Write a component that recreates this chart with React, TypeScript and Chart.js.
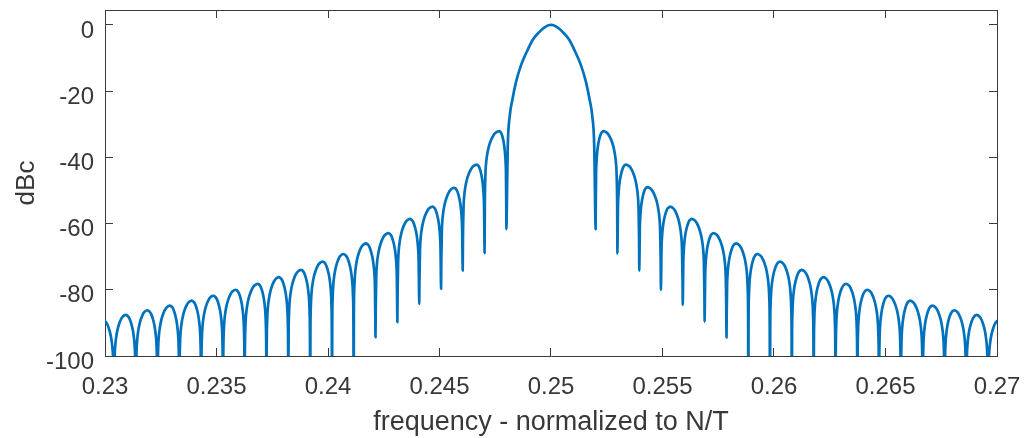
import React, { useEffect, useRef } from "react";
import { Chart, registerables } from "chart.js";

Chart.register(...registerables);

// ---- Data ----
// Frequency axis
const xMin = 0.23;
const xMax = 0.27;
const xStep = 0.005;
// Level axis (dBc)
const yMin = -100;
const yMax = 4.5;
const yStep = 20;

const xTitle = "frequency - normalized to N/T";
const yTitle = "dBc";

// Nulls left of the main lobe (frequency, depth in dBc; -120 = below the axis)
const leftNullFreqs = [
  0.22942, 0.2304, 0.23138, 0.23235, 0.23333, 0.23431, 0.23529, 0.23626, 0.23724, 0.23822,
  0.2392, 0.24018, 0.24115, 0.24213, 0.24311, 0.24409, 0.24507, 0.24604, 0.24702, 0.248,
];
const leftNullLevels = [
  -120, -120, -120, -120, -120, -120, -120, -120, -120, -120,
  -120, -120, -120, -94.3, -89.8, -84.3, -79.7, -74.2, -68.9, -61.7,
];
// Side-lobe peaks left of the main lobe
const leftPeakFreqs = [
  0.22991, 0.23093, 0.2319, 0.23291, 0.23389, 0.23486, 0.23586, 0.23685, 0.2378, 0.23879,
  0.23976, 0.24069, 0.2417, 0.24271, 0.24368, 0.24469, 0.24566, 0.24667, 0.24768,
];
const leftPeakLevels = [
  -89.2, -87.6, -86.2, -84.8, -83.3, -81.8, -80.0, -78.2, -76.2, -74.0,
  -71.5, -69.2, -66.0, -62.9, -58.6, -54.9, -49.2, -42.2, -32.1,
];

// Main lobe (between the nulls at 0.248 and 0.252)
const mainLobeFreqs = [
  0.24803, 0.24806, 0.24815, 0.24827, 0.24843, 0.24865, 0.24897, 0.24919, 0.24941, 0.24959,
  0.24975, 0.24988, 0.25,
  0.25012, 0.25025, 0.25041, 0.25059, 0.25081, 0.25103, 0.25135, 0.25157, 0.25173, 0.25185,
  0.25194, 0.25197,
];
const mainLobeLevels = [
  -50, -37, -27.5, -22.5, -17.3, -12.3, -7.3, -4.4, -2.6, -1.4,
  -0.6, -0.13, 0,
  -0.13, -0.6, -1.4, -2.6, -4.4, -7.3, -12.3, -17.3, -22.5, -27.5,
  -37, -50,
];

// Nulls right of the main lobe
const rightNullFreqs = [
  0.252, 0.25298, 0.25396, 0.25493, 0.25591, 0.25689, 0.25787, 0.25885, 0.25982, 0.2608,
  0.26178, 0.26276, 0.26374, 0.26471, 0.26569, 0.26667, 0.26765, 0.26862, 0.2696, 0.27058,
];
const rightNullLevels = [
  -61.7, -69.0, -74.2, -80.0, -84.6, -89.6, -94.4, -120, -120, -120,
  -120, -120, -120, -120, -120, -120, -120, -120, -120, -120,
];
// Side-lobe peaks right of the main lobe
const rightPeakFreqs = [
  0.25235, 0.25336, 0.25432, 0.25534, 0.25631, 0.25728, 0.2583, 0.25925, 0.26027, 0.26124,
  0.26221, 0.26323, 0.26418, 0.26512, 0.2661, 0.2671, 0.26808, 0.26909, 0.27009,
];
const rightPeakLevels = [
  -32.1, -42.2, -49.0, -54.9, -58.6, -62.9, -66.0, -69.2, -71.5, -74.0,
  -76.2, -78.2, -80.0, -81.8, -83.3, -84.8, -86.2, -87.6, -89.2,
];

// Shape of one side-lobe flank as seen in the picture:
// position as a fraction of the null-to-peak distance, level in dB below the peak
const flankFractions = [0.02, 0.06, 0.12, 0.2, 0.3, 0.45, 0.6, 0.75, 0.9];
const flankLevels = [-22, -13, -9, -6.5, -4.5, -2.6, -1.3, -0.5, -0.1];

type Pt = { x: number; y: number };

function lobePoints(
  nullF: number[],
  nullL: number[],
  peakF: number[],
  peakL: number[]
): Pt[] {
  const pts: Pt[] = [];
  for (let i = 0; i < peakF.length; i++) {
    const a = nullF[i];
    const b = nullF[i + 1];
    const pf = peakF[i];
    const pv = peakL[i];
    if (i === 0) pts.push({ x: a, y: nullL[i] });
    for (let k = 0; k < flankFractions.length; k++) {
      pts.push({
        x: a + flankFractions[k] * (pf - a),
        y: Math.max(pv + flankLevels[k], nullL[i]),
      });
    }
    pts.push({ x: pf, y: pv });
    for (let k = flankFractions.length - 1; k >= 0; k--) {
      pts.push({
        x: b - flankFractions[k] * (b - pf),
        y: Math.max(pv + flankLevels[k], nullL[i + 1]),
      });
    }
    pts.push({ x: b, y: nullL[i + 1] });
  }
  return pts;
}

function buildSeries(): Pt[] {
  const left = lobePoints(leftNullFreqs, leftNullLevels, leftPeakFreqs, leftPeakLevels);
  const main = mainLobeFreqs.map((f, i) => ({ x: f, y: mainLobeLevels[i] }));
  const right = lobePoints(rightNullFreqs, rightNullLevels, rightPeakFreqs, rightPeakLevels);
  return [...left, ...main, ...right];
}

const FONT = '"Liberation Sans", Arial, Helvetica, sans-serif';
const AXIS_COLOR = "#3a3a3a";
const TEXT_COLOR = "#383838";
const LINE_COLOR = "#0072BD";

export default function App() {
  const canvasRef = useRef<HTMLCanvasElement | null>(null);

  useEffect(() => {
    document.body.style.margin = "0";
    const canvas = canvasRef.current;
    if (!canvas) return;

    const tickFont = { family: FONT, size: 24 };
    const gridOpts = {
      display: true,
      drawOnChartArea: false,
      drawTicks: true,
      tickLength: -8,
      color: AXIS_COLOR,
      lineWidth: 1,
    };
    const borderOpts = { display: true, color: AXIS_COLOR, width: 1 };

    const chart = new Chart(canvas, {
      type: "line",
      data: {
        datasets: [
          {
            data: buildSeries(),
            borderColor: LINE_COLOR,
            borderWidth: 2.7,
            pointRadius: 0,
            pointHoverRadius: 0,
            fill: false,
            cubicInterpolationMode: "monotone",
            borderJoinStyle: "round",
            borderCapStyle: "round",
            clip: 0,
          } as any,
        ],
      },
      options: {
        animation: false,
        responsive: false,
        devicePixelRatio: 1,
        events: [],
        layout: { padding: { left: 0, top: 10, right: 29, bottom: 0 } },
        plugins: {
          legend: { display: false },
          tooltip: { enabled: false },
        },
        scales: {
          x: {
            type: "linear",
            position: "bottom",
            min: xMin,
            max: xMax,
            ticks: {
              stepSize: xStep,
              padding: 25,
              color: TEXT_COLOR,
              font: tickFont,
              maxRotation: 0,
              autoSkip: false,
              callback: (v: any) => String(Number(Number(v).toFixed(3))),
            },
            grid: gridOpts,
            border: borderOpts,
            title: {
              display: true,
              text: xTitle,
              color: TEXT_COLOR,
              font: { family: FONT, size: 27, lineHeight: 1 },
              padding: { top: 0, bottom: 2 },
            },
            afterFit: (s: any) => {
              s.height = 82;
              s.paddingLeft = 0;
              s.paddingRight = 0;
            },
          },
          x2: {
            type: "linear",
            position: "top",
            min: xMin,
            max: xMax,
            ticks: { stepSize: xStep, display: false },
            grid: gridOpts,
            border: borderOpts,
            afterFit: (s: any) => {
              s.height = 0;
              s.paddingLeft = 0;
              s.paddingRight = 0;
            },
          },
          y: {
            type: "linear",
            position: "left",
            min: yMin,
            max: yMax,
            ticks: {
              stepSize: yStep,
              includeBounds: false,
              padding: 19,
              labelOffset: 6,
              color: TEXT_COLOR,
              font: tickFont,
              callback: (v: any) => String(Math.round(Number(v))),
            },
            grid: gridOpts,
            border: borderOpts,
            title: {
              display: true,
              text: yTitle,
              color: TEXT_COLOR,
              font: { family: FONT, size: 26, lineHeight: 1 },
              padding: { top: 14, bottom: 0 },
            },
            afterFit: (s: any) => {
              s.width = 105;
              s.paddingTop = 0;
              s.paddingBottom = 0;
            },
          },
          y2: {
            type: "linear",
            position: "right",
            min: yMin,
            max: yMax,
            ticks: { stepSize: yStep, includeBounds: false, display: false },
            grid: gridOpts,
            border: borderOpts,
            afterFit: (s: any) => {
              s.width = 0;
              s.paddingTop = 0;
              s.paddingBottom = 0;
            },
          },
        },
      } as any,
    });

    return () => chart.destroy();
  }, []);

  return (
    <div style={{ position: "relative", width: 1026, height: 438, background: "#ffffff" }}>
      <canvas
        ref={canvasRef}
        width={1026}
        height={438}
        style={{ display: "block", width: 1026, height: 438 }}
      />
    </div>
  );
}
